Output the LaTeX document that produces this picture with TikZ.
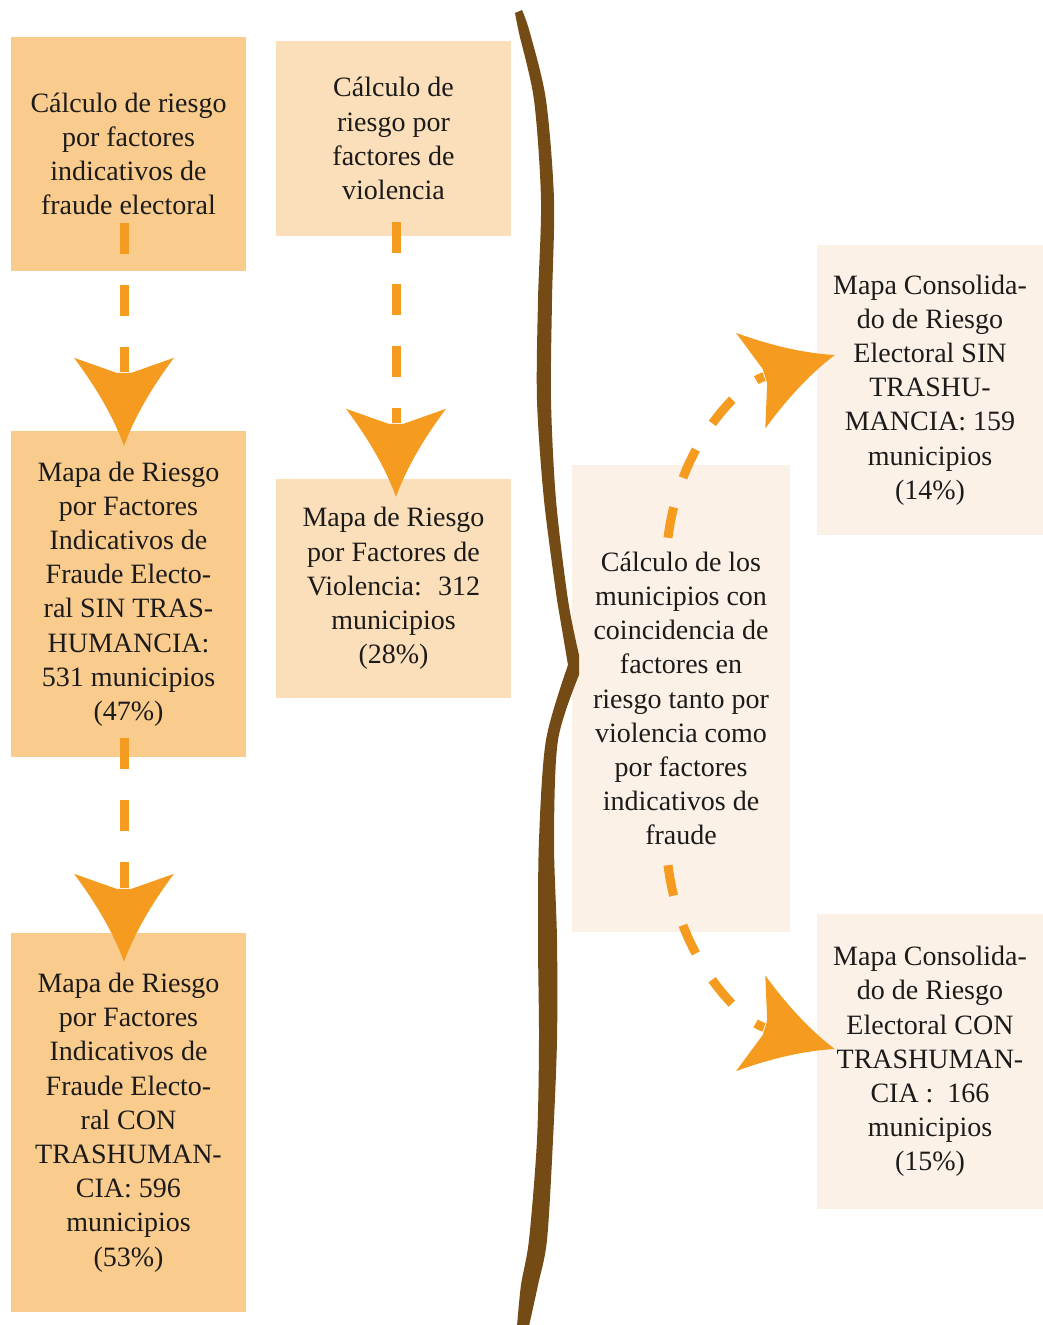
\documentclass[tikz,border=0pt]{standalone}
\usepackage{fontspec}
\setmainfont{Liberation Serif}
\usetikzlibrary{arrows.meta,calc}

\definecolor{cA}{HTML}{F9CB8D}
\definecolor{cB}{HTML}{FBDFBA}
\definecolor{cF}{HTML}{FBF1E6}
\definecolor{arrowc}{HTML}{F49B20}
\definecolor{bracec}{HTML}{744B14}
\definecolor{txt}{HTML}{1C1B1A}

\pgfdeclarearrow{
  name = Dart,
  setup code = {
    \pgfarrowssettipend{0pt}
    \pgfarrowssetlineend{-74pt}
    \pgfarrowssetvisualbackend{-74pt}
    \pgfarrowssetbackend{-88pt}
    \pgfarrowshullpoint{0pt}{0pt}
    \pgfarrowsupperhullpoint{-88pt}{50pt}
  },
  drawing code = {
    \pgfpathmoveto{\pgfqpoint{0pt}{0pt}}
    \pgfpathcurveto{\pgfqpoint{-30pt}{11pt}}{\pgfqpoint{-60pt}{29pt}}{\pgfqpoint{-88pt}{50pt}}
    \pgfpathlineto{\pgfqpoint{-73pt}{7.5pt}}
    \pgfpathlineto{\pgfqpoint{-73pt}{-7.5pt}}
    \pgfpathlineto{\pgfqpoint{-88pt}{-50pt}}
    \pgfpathcurveto{\pgfqpoint{-60pt}{-29pt}}{\pgfqpoint{-30pt}{-11pt}}{\pgfqpoint{0pt}{0pt}}
    \pgfpathclose
    \pgfusepathqfill
  }
}

\tikzset{
  box/.style={inner sep=0pt, align=center, text=txt,
    font=\fontsize{28}{34.2}\selectfont},
  boxA/.style={box, fill=cA, minimum width=235pt},
  boxB/.style={box, fill=cB, minimum width=235pt},
  boxF/.style={box, fill=cF},
  conn/.style={arrowc, line width=9pt, dash pattern=on 31pt off 31pt, -Dart},
}

\begin{document}
\begin{tikzpicture}[x=1pt,y=1pt]
\useasboundingbox (0,0) rectangle (1043,-1325);

% boxes
\node[boxA, minimum height=234pt] (a) at (128.5,-154)
  {Cálculo de riesgo\\por factores\\indicativos de\\fraude electoral};
\node[boxB, minimum height=195pt] (b) at (393.5,-138.5)
  {Cálculo de\\riesgo por\\factores de\\violencia};
\node[boxA, minimum height=326pt] (c) at (128.5,-594)
  {Mapa de Riesgo\\por Factores\\Indicativos de\\Fraude Electo-\\ral SIN TRAS-\\HUMANCIA:\\531 municipios\\(47\%)};
\node[boxB, minimum height=219pt] (d) at (393.5,-588.5)
  {Mapa de Riesgo\\por Factores de\\Violencia:~ 312\\municipios\\(28\%)};
\node[boxA, minimum height=379pt] (e) at (128.5,-1122.5)
  {Mapa de Riesgo\\por Factores\\Indicativos de\\Fraude Electo-\\ral CON\\TRASHUMAN-\\CIA: 596\\municipios\\(53\%)};
\node[boxF, minimum width=218pt, minimum height=467pt] (f) at (681,-698.5)
  {Cálculo de los\\municipios con\\coincidencia de\\factores en\\riesgo tanto por\\violencia como\\por factores\\indicativos de\\fraude};
\node[boxF, minimum width=226pt, minimum height=290pt] (g) at (930,-390)
  {Mapa Consolida-\\do de Riesgo\\Electoral SIN\\TRASHU-\\MANCIA: 159\\municipios\\(14\%)};
\node[boxF, minimum width=226pt, minimum height=295pt] (h) at (930,-1061.5)
  {Mapa Consolida-\\do de Riesgo\\Electoral CON\\TRASHUMAN-\\CIA :~ 166\\municipios\\(15\%)};

% brace
\fill[bracec]
  plot[smooth] coordinates {(522,-10) (530,-33) (546,-100) (554,-200) (552,-300) (551,-400) (556,-500) (568,-600) (579,-655)}
  -- plot[smooth] coordinates {(579,-675) (558,-740) (554,-840) (557,-940) (557,-1040) (553,-1140) (547,-1240) (538,-1285) (529,-1326)}
  -- plot[smooth] coordinates {(517,-1326) (521,-1285) (529,-1240) (537,-1140) (539,-1040) (538,-940) (539,-840) (546,-740) (568,-665)}
  -- plot[smooth] coordinates {(557,-600) (544,-500) (537,-400) (538,-300) (541,-200) (534,-100) (519,-33) (515,-13)}
  -- cycle;

% connectors
\draw[conn] ([shift={(-4.5,48)}]a.south) -- ([shift={(-4.5,-15)}]c.north);
\draw[conn] ([shift={(2.5,14)}]b.south) -- ([shift={(2.5,-18)}]d.north);
\draw[conn] ([shift={(-4.5,19)}]c.south) -- ([shift={(-4.5,-29)}]e.north);
\draw[conn] ([shift={(-13,-73)}]f.north) to[out=83,in=197] ([shift={(18,35)}]g.west);
\draw[conn] ([shift={(-13,67)}]f.south) to[out=-83,in=163] ([shift={(18,12.5)}]h.west);
\end{tikzpicture}
\end{document}
